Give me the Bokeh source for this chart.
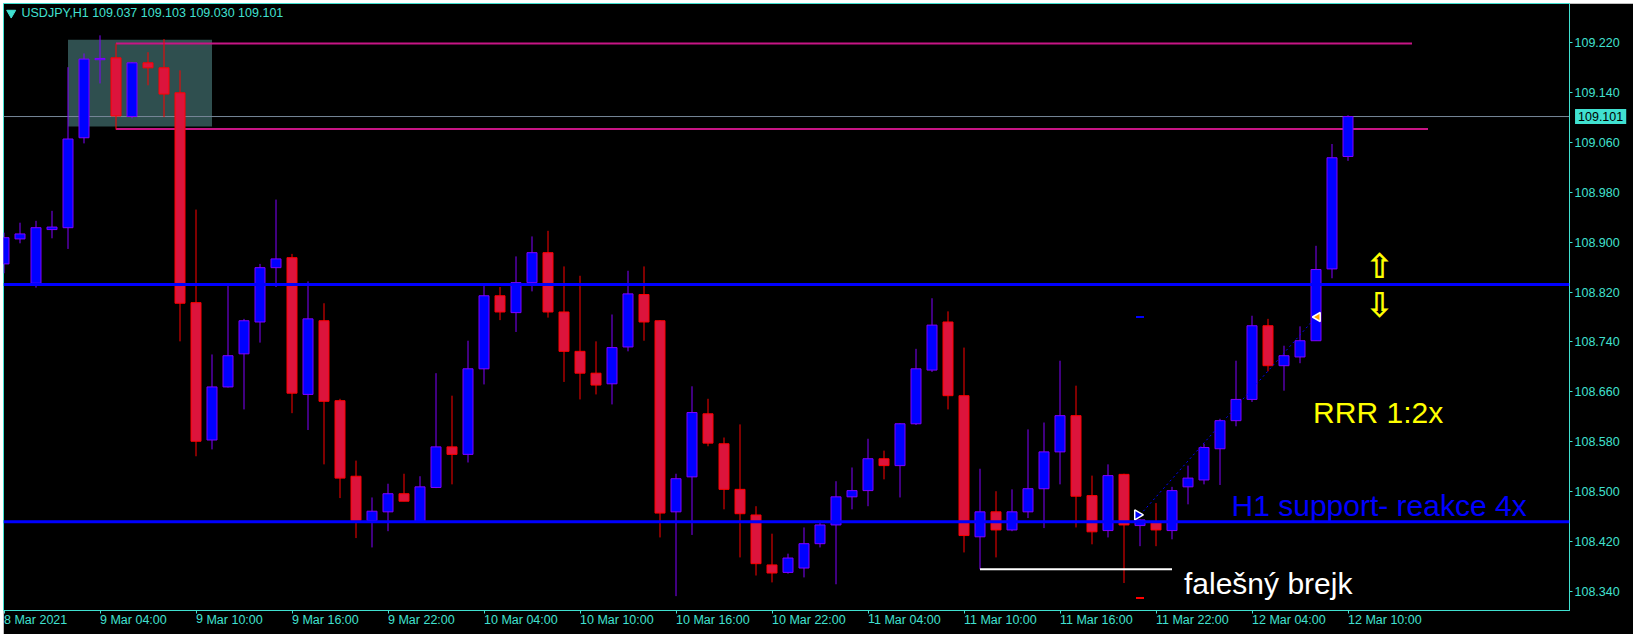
import numpy as np
from bokeh.plotting import figure
from bokeh.models import Range1d, FixedTicker, PrintfTickFormatter, Span, Label, ColumnDataSource
from bokeh.embed import file_html
from bokeh.resources import INLINE

# ---------------- data ----------------
symbol = "USDJPY,H1"
time_tick_index = [0, 6, 12, 18, 24, 30, 36, 42, 48, 54, 60, 66, 72, 78, 84]
time_tick_labels = ["8 Mar 2021", "9 Mar 04:00", "9 Mar 10:00", "9 Mar 16:00", "9 Mar 22:00",
                    "10 Mar 04:00", "10 Mar 10:00", "10 Mar 16:00", "10 Mar 22:00",
                    "11 Mar 04:00", "11 Mar 10:00", "11 Mar 16:00", "11 Mar 22:00",
                    "12 Mar 04:00", "12 Mar 10:00"]
price_ticks = [108.340, 108.420, 108.500, 108.580, 108.660, 108.740, 108.820,
               108.900, 108.980, 109.060, 109.140, 109.220]

opens = [108.865, 108.905, 108.834, 108.920, 108.923, 109.067, 109.192, 109.195, 109.101, 109.187,
         109.179, 109.139, 108.803, 108.583, 108.668, 108.721, 108.772, 108.859, 108.875, 108.656,
         108.774, 108.646, 108.525, 108.454, 108.468, 108.497, 108.452, 108.507, 108.572, 108.560,
         108.697, 108.814, 108.787, 108.835, 108.883, 108.788, 108.725, 108.690, 108.673, 108.732,
         108.816, 108.774, 108.468, 108.524, 108.625, 108.577, 108.504, 108.463, 108.383, 108.371,
         108.378, 108.417, 108.447, 108.492, 108.502, 108.553, 108.542, 108.609, 108.695, 108.772,
         108.654, 108.428, 108.468, 108.439, 108.468, 108.505, 108.564, 108.622, 108.494, 108.438,
         108.528, 108.446, 108.452, 108.438, 108.508, 108.519, 108.569, 108.614, 108.648, 108.766,
         108.702, 108.716, 108.742, 108.857, 109.037]
highs = [108.915, 108.931, 108.934, 108.950, 109.180, 109.202, 109.231, 109.218, 109.188, 109.204,
         109.225, 109.175, 108.952, 108.720, 108.833, 108.777, 108.865, 108.968, 108.881, 108.837,
         108.802, 108.649, 108.550, 108.491, 108.513, 108.529, 108.525, 108.690, 108.654, 108.742,
         108.834, 108.828, 108.877, 108.909, 108.918, 108.861, 108.846, 108.741, 108.784, 108.854,
         108.861, 108.775, 108.529, 108.669, 108.649, 108.587, 108.608, 108.477, 108.433, 108.401,
         108.443, 108.454, 108.517, 108.539, 108.585, 108.566, 108.610, 108.729, 108.810, 108.789,
         108.731, 108.537, 108.501, 108.504, 108.600, 108.611, 108.710, 108.670, 108.526, 108.544,
         108.529, 108.456, 108.482, 108.508, 108.542, 108.577, 108.617, 108.710, 108.782, 108.777,
         108.734, 108.765, 108.894, 109.057, 109.103]
lows = [108.850, 108.898, 108.827, 108.906, 108.889, 109.058, 109.154, 109.080, 109.098, 109.151,
        109.100, 108.741, 108.557, 108.568, 108.667, 108.632, 108.739, 108.828, 108.626, 108.599,
        108.544, 108.490, 108.426, 108.411, 108.437, 108.485, 108.452, 108.506, 108.512, 108.547,
        108.672, 108.775, 108.756, 108.821, 108.779, 108.676, 108.648, 108.656, 108.640, 108.725,
        108.742, 108.427, 108.333, 108.431, 108.573, 108.472, 108.395, 108.366, 108.355, 108.369,
        108.363, 108.411, 108.352, 108.472, 108.477, 108.520, 108.491, 108.607, 108.692, 108.632,
        108.403, 108.376, 108.395, 108.437, 108.458, 108.442, 108.512, 108.443, 108.416, 108.427,
        108.354, 108.413, 108.413, 108.424, 108.480, 108.512, 108.511, 108.605, 108.644, 108.693,
        108.662, 108.706, 108.742, 108.842, 109.030]
closes = [108.907, 108.913, 108.923, 108.924, 109.065, 109.193, 109.194, 109.102, 109.187, 109.179,
          109.137, 108.802, 108.581, 108.668, 108.718, 108.774, 108.859, 108.873, 108.658, 108.777,
          108.645, 108.522, 108.454, 108.469, 108.497, 108.485, 108.508, 108.572, 108.560, 108.697,
          108.814, 108.788, 108.835, 108.883, 108.788, 108.725, 108.690, 108.671, 108.731, 108.817,
          108.772, 108.466, 108.521, 108.627, 108.578, 108.504, 108.465, 108.385, 108.370, 108.394,
          108.417, 108.447, 108.492, 108.502, 108.553, 108.542, 108.609, 108.697, 108.767, 108.654,
          108.430, 108.468, 108.439, 108.468, 108.505, 108.564, 108.622, 108.493, 108.436, 108.526,
          108.447, 108.455, 108.439, 108.502, 108.522, 108.571, 108.614, 108.648, 108.766, 108.702,
          108.718, 108.742, 108.856, 109.035, 109.101]

bid_price = 109.101
support_levels = [108.832, 108.452]
range_levels = [109.218, 109.081]          # magenta lines
range_start = [7, 7]
range_end = [88, 89]
zone_left, zone_right = 4, 13              # shaded box (bar indices)
zone_top, zone_bottom = 109.224, 109.085
false_break_price = 108.376
false_break_start, false_break_end = 61, 73
trade_open_index, trade_open_price = 71, 108.463
trade_close_index, trade_close_price = 82, 108.780
stop_loss, take_profit = 108.330, 108.780

# ---------------- styles ----------------
TURQ = "#40E0D0"
BULL_FILL, BULL_LINE = "#0000FF", "#8000FF"
BEAR_FILL, BEAR_LINE = "#DC143C", "#FF0000"
FONT = "Liberation Sans"

PX_X = 16.0
x0 = -0.5 / PX_X
x_range = Range1d(x0, x0 + 1566 / PX_X)
y_range = Range1d(108.310, 109.282)

p = figure(frame_width=1566, frame_height=607, x_range=x_range, y_range=y_range,
           y_axis_location="right", output_backend="svg", toolbar_location=None,
           min_border_left=0, min_border_top=0, min_border_right=58, min_border_bottom=21,
           background_fill_color="black", border_fill_color="black",
           outline_line_color=TURQ, outline_line_width=1, margin=(3, 0, 0, 3))
p.grid.visible = False

# axes
p.yaxis.ticker = FixedTicker(ticks=price_ticks)
p.yaxis.formatter = PrintfTickFormatter(format="%.3f")
p.yaxis.major_label_text_color = TURQ
p.yaxis.major_label_text_font = FONT
p.yaxis.major_label_text_font_size = "12.5px"
p.yaxis.major_label_standoff = 2
p.yaxis.major_tick_out = 3
p.yaxis.major_tick_in = 0
p.yaxis.minor_tick_out = 0
p.yaxis.minor_tick_in = 0
p.yaxis.major_tick_line_color = TURQ
p.yaxis.axis_line_color = TURQ

p.xaxis.ticker = FixedTicker(ticks=time_tick_index)
p.xaxis.major_label_overrides = {t: lab for t, lab in zip(time_tick_index, time_tick_labels)}
p.xaxis.major_label_orientation = -0.0001   # tiny angle -> labels start at the tick
p.xaxis.major_label_text_color = TURQ
p.xaxis.major_label_text_font = FONT
p.xaxis.major_label_text_font_size = "12.5px"
p.xaxis.major_label_standoff = 6
p.xaxis.major_tick_out = 3
p.xaxis.major_tick_in = 0
p.xaxis.minor_tick_out = 0
p.xaxis.minor_tick_in = 0
p.xaxis.major_tick_line_color = TURQ
p.xaxis.axis_line_color = TURQ

# shaded zone (behind everything)
rz = p.quad(left=[zone_left], right=[zone_right], top=[zone_top], bottom=[zone_bottom],
            fill_color="#2F4F4F", line_color=None)
rz.level = "image"

# bid line behind candles
p.add_layout(Span(location=bid_price, dimension="width", line_color="#778899",
                  line_width=1, level="underlay"))

# magenta range lines
p.segment(x0=range_start, y0=range_levels, x1=range_end, y1=range_levels,
          line_color="#C71585", line_width=2)

# candles
o = np.array(opens)
c = np.array(closes)
bull = c >= o
src = ColumnDataSource(dict(
    x=list(range(len(opens))),
    top=list(np.maximum(o, c)), bottom=list(np.minimum(o, c)),
    high=highs, low=lows,
    fill=[BULL_FILL if b else BEAR_FILL for b in bull],
    line=[BULL_LINE if b else BEAR_LINE for b in bull],
))
p.segment(x0="x", y0="low", x1="x", y1="high", line_color="line", line_width=1, source=src)
p.vbar(x="x", width=0.625, top="top", bottom="bottom", fill_color="fill",
       line_color="line", line_width=1, source=src)

# support lines
for lvl in support_levels:
    p.add_layout(Span(location=lvl, dimension="width", line_color="#0000FF", line_width=3))

# false break line
p.segment(x0=[false_break_start], y0=[false_break_price], x1=[false_break_end],
          y1=[false_break_price], line_color="white", line_width=2)

# trade
p.line(x=[trade_open_index, trade_close_index], y=[trade_open_price, trade_close_price],
       line_color="#0000FF", line_width=1, line_dash="2 3")
p.scatter(x=[trade_open_index - 0.15], y=[trade_open_price], marker="triangle",
          angle=-np.pi / 2, size=10, fill_color="#0000FF", line_color="white", line_width=1.5)
p.scatter(x=[trade_close_index + 0.1], y=[trade_close_price], marker="triangle",
          angle=np.pi / 2, size=9, fill_color="#FFA500", line_color="white", line_width=1.5)
p.scatter(x=[trade_open_index], y=[stop_loss], marker="dash", size=8,
          line_color="#FF0000", line_width=2)
p.scatter(x=[trade_open_index], y=[take_profit], marker="dash", size=8,
          line_color="#0000FF", line_width=2)

# header
p.scatter(x=[0.45], y=[109.267], marker="inverted_triangle", size=9,
          fill_color=TURQ, line_color=TURQ)
header = "%s  %.3f %.3f %.3f %.3f" % (symbol, opens[-1], highs[-1], lows[-1], closes[-1])
p.add_layout(Label(x=1.094, y=109.266, text=header, text_color=TURQ, text_font=FONT,
                   text_font_size="12.5px", text_align="left", text_baseline="middle"))

# current price box (placed in the right side panel so it is not clipped)
p.add_layout(Label(x=98.19, y=bid_price, text="%.3f" % bid_price, text_color="black",
                   text_font=FONT, text_font_size="12.5px", text_align="left",
                   text_baseline="middle", background_fill_color=TURQ, padding=3), "right")

# annotations
p.add_layout(Label(x=81.82, y=108.627, text="RRR 1:2x", text_color="#FFFF00",
                   text_font=FONT, text_font_size="30px", text_baseline="middle"))
p.add_layout(Label(x=76.72, y=108.4774, text="H1 support- reakce 4x", text_color="#0000FF",
                   text_font=FONT, text_font_size="30px", text_baseline="middle"))
p.add_layout(Label(x=73.75, y=108.3536, text="falešný brejk", text_color="white",
                   text_font=FONT, text_font_size="30px", text_baseline="middle"))
p.add_layout(Label(x=85.97, y=108.861, text="⇧", text_color="#FFFF00",
                   text_font="DejaVu Sans", text_font_size="34px", text_font_style="bold",
                   text_align="center", text_baseline="middle"))
p.add_layout(Label(x=85.97, y=108.800, text="⇩", text_color="#FFFF00",
                   text_font="DejaVu Sans", text_font_size="34px", text_font_style="bold",
                   text_align="center", text_baseline="middle"))

open("out.html", "w").write(file_html(p, INLINE))
